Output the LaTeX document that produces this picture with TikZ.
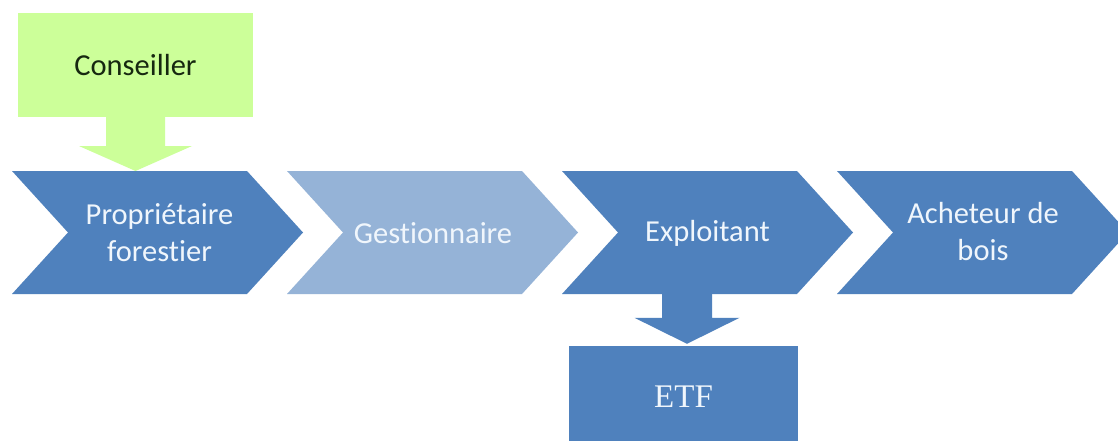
\documentclass[tikz,border=0pt]{standalone}
\usepackage{fontspec}
\setmainfont{Carlito}[Ligatures={NoCommon,NoContextual}]
\newfontfamily\etffont{Liberation Serif}
\usetikzlibrary{calc}
\definecolor{chevblue}{RGB}{79,129,189}
\definecolor{chevlight}{RGB}{149,179,215}
\definecolor{advgreen}{RGB}{204,255,153}
\definecolor{chevtxt}{RGB}{240,246,252}
\definecolor{advtxt}{RGB}{22,40,16}
\begin{document}
\begin{tikzpicture}[x=1pt,y=-1pt,
  chevron/.pic={\fill[pic actions] (0,171) -- (235,171) -- (291,232.5) -- (235,294) -- (0,294) -- (56,232.5) -- cycle;},
  chevtext/.style={text=chevtxt, font=\fontsize{30.5}{37}\selectfont, align=center, inner sep=0pt},
  boxnode/.style={inner sep=0pt, minimum width=#1},
]
\useasboundingbox (0,0) rectangle (1118,441);
\clip (0,0) rectangle (1118,441);
\fill[white] (0,0) rectangle (1118,441);

% chevrons
\pic[fill=chevblue]  at (12,0)  {chevron};
\pic[fill=chevlight] at (287,0) {chevron};
\pic[fill=chevblue]  at (562,0) {chevron};
\pic[fill=chevblue]  at (837,0) {chevron};

\node[chevtext] (prop) at (159.5,233) {Propriétaire\\forestier};
\node[chevtext] (gest) at (433,233) {Gestionnaire};
\node[chevtext] (expl) at (707.5,233) {Exploitant};
\node[chevtext] (ache) at (983,232) {Acheteur de\\bois};

% boxes
\node[boxnode=235pt, minimum height=104pt, fill=advgreen, text=advtxt,
      font=\fontsize{30.5}{36}\selectfont] (cons) at (135.5,65) {Conseiller};
\node[boxnode=229pt, minimum height=104pt, fill=chevblue, text=chevtxt,
      font=\etffont\fontsize{33}{38}\selectfont] (etf) at (683.5,398) {\raisebox{3.5pt}{ETF}};

% block arrows
\coordinate (constip) at (135.5,171);
\fill[advgreen] let \p1=(cons.south), \p2=(constip) in
  (\x1-29.5pt,\y1) -- (\x1+29.5pt,\y1) -- (\x1+29.5pt,\y2+25pt) --
  (\x1+56.5pt,\y2+25pt) -- (\x2,\y2) -- (\x1-56.5pt,\y2+25pt) --
  (\x1-29.5pt,\y2+25pt) -- cycle;

\coordinate (explbot) at (687,294);
\coordinate (etftip) at ($(etf.north)+(3.5,-2)$);
\fill[chevblue] let \p1=(explbot), \p2=(etftip) in
  (\x1-25pt,\y1) -- (\x1+25pt,\y1) -- (\x1+25pt,\y2+26pt) --
  (\x1+52.5pt,\y2+26pt) -- (\x2,\y2) -- (\x1-52.5pt,\y2+26pt) --
  (\x1-25pt,\y2+26pt) -- cycle;
\end{tikzpicture}
\end{document}
